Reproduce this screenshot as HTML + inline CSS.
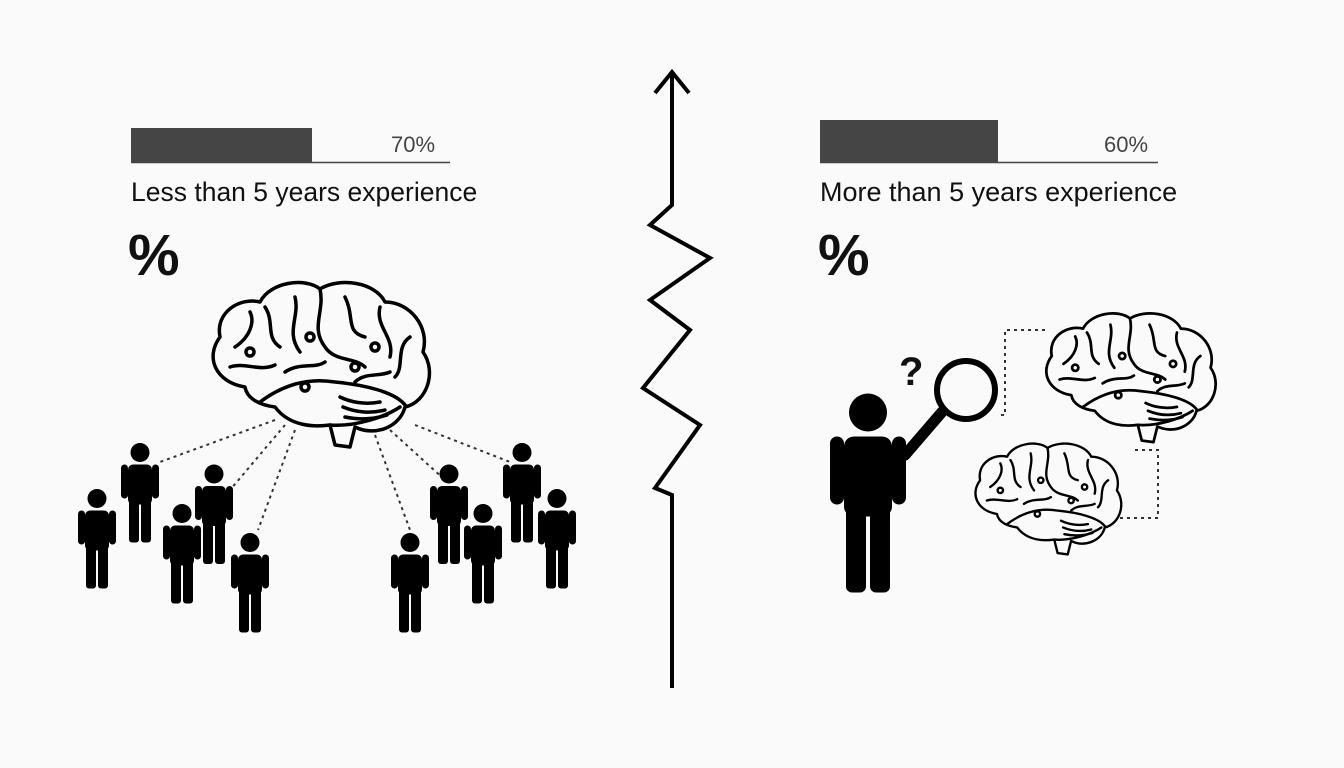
<!DOCTYPE html>
<html><head><meta charset="utf-8"><style>
html,body{margin:0;padding:0;background:#fafafa;}
body{width:1344px;height:768px;overflow:hidden;position:relative;font-family:"Liberation Sans",sans-serif;}
.t{position:absolute;color:#111;}
</style></head><body>
<svg width="1344" height="768" style="position:absolute;left:0;top:0">
<defs>
<symbol id="p" viewBox="0 0 40 100">
<circle cx="20" cy="10" r="9.5" fill="#000"/>
<rect x="8" y="22" width="24" height="40" rx="5" fill="#000"/>
<rect x="1" y="22" width="7" height="34" rx="3.5" fill="#000"/>
<rect x="32" y="22" width="7" height="34" rx="3.5" fill="#000"/>
<rect x="9" y="55" width="10" height="45" rx="3" fill="#000"/>
<rect x="21" y="55" width="10" height="45" rx="3" fill="#000"/>
</symbol>
<symbol id="b" viewBox="0 0 230 180">
<g fill="none" stroke="#000" stroke-width="3.5" stroke-linecap="round" stroke-linejoin="round">
<path d="M40 110 C10 105 0 80 15 60 C10 35 35 20 55 25 C65 5 100 0 115 12 C135 0 170 5 180 25 C205 25 225 50 218 75 C232 95 222 125 200 130 C195 150 170 160 150 150 L145 170 L130 168 L125 148 C110 150 85 150 70 130 C55 128 42 122 40 110 Z"/>
<path d="M55 125 C75 110 100 100 130 105 C160 108 190 115 200 128"/>
<path d="M125 148 C150 150 180 140 195 130"/>
<path d="M30 70 C45 60 50 45 45 35 M60 30 C70 45 60 60 75 70 M90 20 C95 40 80 55 95 75 M115 12 C120 35 105 50 120 70 C130 85 150 80 160 90 M140 20 C150 40 140 55 160 60 M175 30 C170 50 190 60 185 80 M205 60 C190 70 200 90 190 100 M25 90 C40 85 55 95 70 88 M80 95 C95 85 110 92 120 85 M150 105 C160 95 175 100 185 95"/>
<path d="M135 120 C145 125 160 128 175 125 M138 130 C150 135 165 137 180 133 M140 140 C155 143 170 142 182 138"/>
<circle cx="45" cy="75" r="4"/><circle cx="105" cy="60" r="4"/><circle cx="170" cy="70" r="4"/><circle cx="100" cy="110" r="4"/><circle cx="150" cy="90" r="4"/>
</g>
</symbol>
</defs>
<rect x="131" y="128" width="181" height="34" fill="#454545"/>
<line x1="131" y1="162.5" x2="450" y2="162.5" stroke="#444" stroke-width="1.5"/>
<rect x="820" y="120" width="178" height="42" fill="#454545"/>
<line x1="820" y1="162.5" x2="1158" y2="162.5" stroke="#444" stroke-width="1.5"/>
<polyline points="672,688 672,495 655,488 700,425 643,388 690,330 650,300 710,258 650,225 672,205 672,75" fill="none" stroke="#000" stroke-width="4" stroke-linejoin="miter"/>
<polyline points="655,93 672,72 689,93" fill="none" stroke="#000" stroke-width="4"/>
<use href="#b" x="205" y="272" width="230" height="190"/>
<g stroke="#333" stroke-width="2" stroke-dasharray="3,4" fill="none">
<line x1="275" y1="420" x2="160" y2="462"/><line x1="285" y1="425" x2="230" y2="490"/><line x1="295" y1="430" x2="258" y2="530"/>
<line x1="375" y1="435" x2="410" y2="530"/><line x1="390" y1="430" x2="445" y2="480"/><line x1="415" y1="425" x2="510" y2="462"/>
<polyline points="1045,330 1005,330 1005,415 1000,415"/>
<polyline points="1135,450 1158,450 1158,518 1120,518"/>
</g>
<use href="#p" x="77" y="487" width="40" height="103"/>
<use href="#p" x="120" y="440" width="40" height="105"/>
<use href="#p" x="162" y="502" width="40" height="103"/>
<use href="#p" x="194" y="463" width="40" height="102"/>
<use href="#p" x="230" y="530" width="40" height="105"/>
<use href="#p" x="390" y="530" width="40" height="105"/>
<use href="#p" x="429" y="463" width="40" height="102"/>
<use href="#p" x="463" y="502" width="40" height="103"/>
<use href="#p" x="502" y="440" width="40" height="105"/>
<use href="#p" x="537" y="487" width="40" height="103"/>
<use href="#p" x="828" y="380" width="80" height="225"/>
<line x1="905" y1="455" x2="942" y2="412" stroke="#000" stroke-width="11" stroke-linecap="round"/>
<circle cx="966" cy="390" r="29" fill="#fafafa" stroke="#000" stroke-width="6"/>
<use href="#b" x="1040" y="302" width="180" height="155"/>
<use href="#b" x="970" y="438" width="155" height="125"/>
</svg>
<div class="t" style="left:391px;top:132px;font-size:22px;color:#444">70%</div>
<div class="t" style="left:1104px;top:132px;font-size:22px;color:#444">60%</div>
<div class="t" style="left:131px;top:177px;font-size:26.5px">Less than 5 years experience</div>
<div class="t" style="left:820px;top:177px;font-size:27px">More than 5 years experience</div>
<div class="t" style="left:128px;top:222px;font-size:58px;font-weight:bold">%</div>
<div class="t" style="left:818px;top:222px;font-size:58px;font-weight:bold">%</div>
<div class="t" style="left:899px;top:350px;font-size:40px;font-weight:bold">?</div>
</body></html>
